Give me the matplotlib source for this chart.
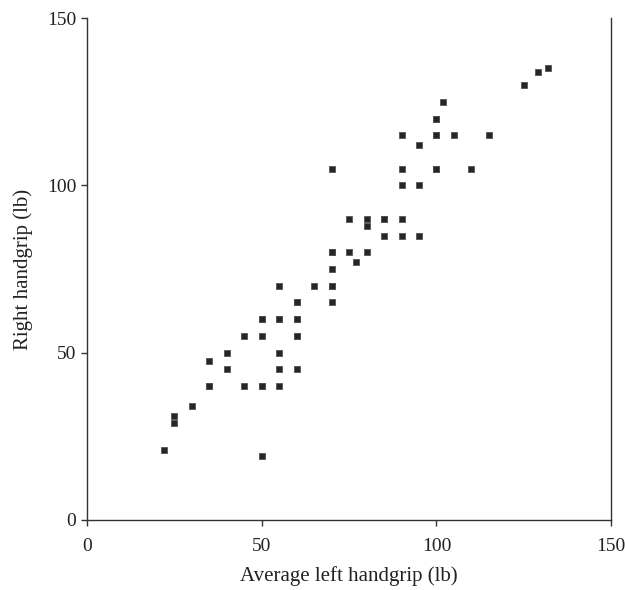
import matplotlib
matplotlib.use("Agg")
import matplotlib.pyplot as plt

# Average left handgrip (lb) and right handgrip (lb); repeated pairs are overlapping observations
left_grip = [22, 25, 25, 30, 35, 35, 35, 40, 40, 45, 45,
             50, 50, 50, 50, 50, 50, 50,
             55, 55, 55, 55, 55, 55,
             60, 60, 60, 60, 60, 60, 60, 60,
             65, 70, 70, 70, 70, 70, 70, 70, 70,
             75, 75, 77, 80, 80, 80, 85, 85, 85,
             90, 90, 90, 90, 90, 95, 95, 95,
             100, 100, 100, 100, 100, 100, 102, 105, 110, 115,
             125, 129, 132]
right_grip = [21, 31, 29, 34, 47.5, 40, 40, 50, 45, 55, 40,
              60, 60, 55, 40, 40, 19, 60,
              70, 60, 60, 50, 45, 40,
              65, 65, 60, 60, 55, 55, 45, 60,
              70, 105, 80, 80, 75, 70, 70, 65, 80,
              90, 80, 77, 90, 88, 80, 90, 90, 85,
              115, 105, 100, 90, 85, 112, 100, 85,
              120, 115, 115, 105, 105, 120, 125, 115, 105, 115,
              130, 134, 135]
x_ticks = [0, 50, 100, 150]
y_ticks = [0, 50, 100, 150]

plt.rcParams['font.family'] = ['Liberation Serif', 'DejaVu Serif']

fig = plt.figure(figsize=(6.25, 5.9), dpi=100)
ax = fig.add_axes([0.139, 0.119, 0.839, 0.850])

ax.scatter(left_grip, right_grip, marker='s', s=19, c='#262626',
           edgecolors='#555555', linewidths=0.6, zorder=3)

ax.set_xlim(0, 150)
ax.set_ylim(0, 150)
ax.set_xticks(x_ticks)
ax.set_yticks(y_ticks)
ax.tick_params(direction='out', length=4, width=1, colors='#333333',
               labelsize=14, labelcolor='#222222')
ax.tick_params(axis='x', pad=9)
for side in ['left', 'bottom', 'right']:
    ax.spines[side].set_color('#333333')
    ax.spines[side].set_linewidth(1.0)
ax.spines['top'].set_visible(False)

ax.set_xlabel('Average left handgrip (lb)', fontsize=15, color='#222222', labelpad=8)
ax.set_ylabel('Right handgrip (lb)', fontsize=15, color='#222222', labelpad=10)

fig.savefig('out.png', dpi=100)
